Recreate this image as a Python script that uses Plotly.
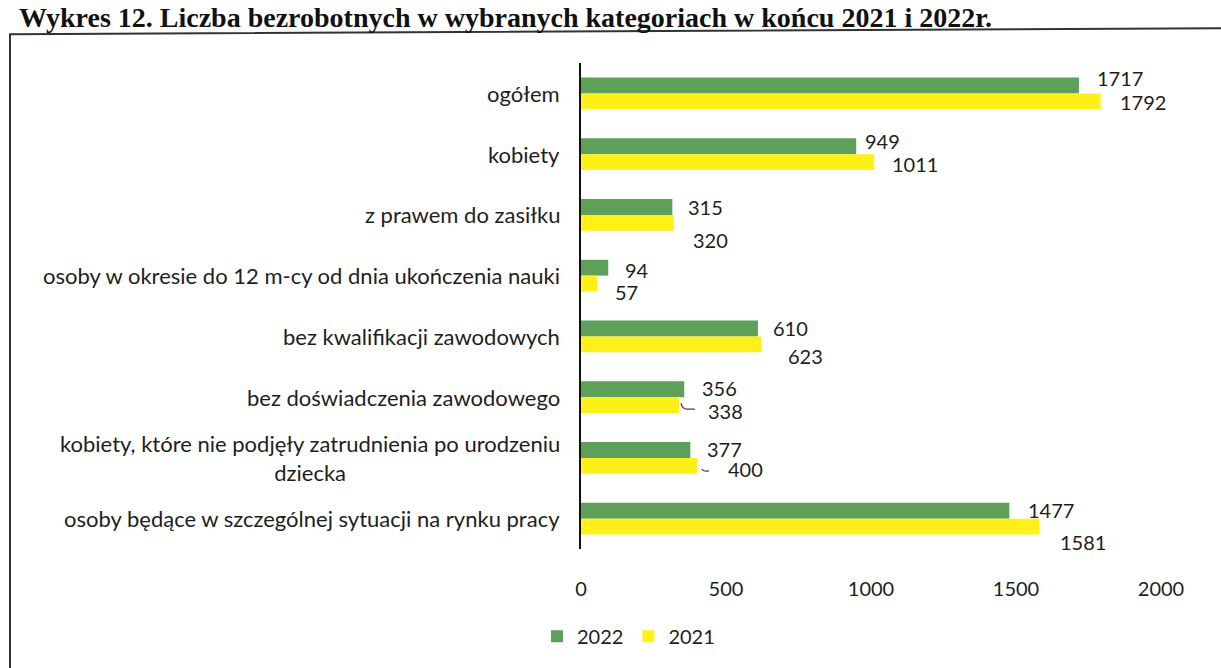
import plotly.graph_objects as go

categories = [
    "ogółem",
    "kobiety",
    "z prawem do zasiłku",
    "osoby w okresie do 12 m-cy od dnia ukończenia nauki",
    "bez kwalifikacji zawodowych",
    "bez doświadczenia zawodowego",
    "kobiety, które nie podjęły zatrudnienia po urodzeniu<br>dziecka",
    "osoby będące w szczególnej sytuacji na rynku pracy",
]
values_2022 = [1717, 949, 315, 94, 610, 356, 377, 1477]
values_2021 = [1792, 1011, 320, 57, 623, 338, 400, 1581]
x_ticks = [0, 500, 1000, 1500, 2000]
title_text = "Wykres 12. Liczba bezrobotnych w wybranych kategoriach w końcu 2021 i 2022r."

# label placement (pixels, style only)
dx_2022 = [18, 9, 16, 17, 15, 18, 17, 19]
dy_2022 = [-15, -13, -8, -6, -8, -9, -9, -9]
dx_2021 = [19, 18, 19, 17, 26, 29, 31, 21]
dy_2021 = [9, 10, 25, 16, 20, 14, 11, 23]

GREEN = "#5E9F5A"
YELLOW = "#FFF01A"
FONT = "Lato"
TXT = "#1e1e1e"

L, R, T, B = 581, 60, 63, 115
W, H = 1221, 668
PW, PH = W - L - R, H - T - B


def px(xp):
    return (xp - L) / PW


def py(yp):
    return (H - B - yp) / PH


fig = go.Figure()
fig.add_trace(go.Bar(y=categories, x=values_2022, orientation="h", name="2022",
                     marker=dict(color=GREEN, line=dict(width=0))))
fig.add_trace(go.Bar(y=categories, x=values_2021, orientation="h", name="2021",
                     marker=dict(color=YELLOW, line=dict(width=0))))

annotations = []
for i, c in enumerate(categories):
    annotations.append(dict(x=0, y=c, xref="x", yref="y", text=c, showarrow=False,
                            xanchor="right", yanchor="middle", xshift=-19, align="center",
                            font=dict(family=FONT, size=22, color=TXT)))
    annotations.append(dict(x=values_2022[i], y=c, xref="x", yref="y", text=str(values_2022[i]),
                            showarrow=False, xanchor="left", yanchor="middle",
                            xshift=dx_2022[i] - 2, yshift=-dy_2022[i],
                            font=dict(family=FONT, size=20, color=TXT)))
    annotations.append(dict(x=values_2021[i], y=c, xref="x", yref="y", text=str(values_2021[i]),
                            showarrow=False, xanchor="left", yanchor="middle",
                            xshift=dx_2021[i] - 2, yshift=-dy_2021[i],
                            font=dict(family=FONT, size=20, color=TXT)))

annotations.append(dict(x=px(18), y=py(0), xref="paper", yref="paper", text="<b>" + title_text + "</b>",
                        showarrow=False, xanchor="left", yanchor="top", borderpad=0,
                        font=dict(family="Liberation Serif", size=28, color="#111")))

shapes = [
    dict(type="path", xref="paper", yref="paper",
         path=f"M {px(10)},{py(690)} L {px(10)},{py(34)} L {px(1230)},{py(28)}",
         line=dict(color="#333", width=2)),
]

# small leader lines for the two displaced labels
leader_idx = [5, 6]
for i in leader_idx:
    shapes.append(dict(type="path", xref="x", yref="y", xsizemode="pixel", ysizemode="pixel",
                       xanchor=values_2021[i], yanchor=categories[i],
                       path="M 2,-6 Q 3,-12 8,-12 L 16,-12" if i == 5 else "M 5,-11 Q 6,-14 12,-13",
                       line=dict(color="#444", width=1.2)))

fig.update_layout(
    width=W, height=H,
    margin=dict(l=L, r=R, t=T, b=B),
    paper_bgcolor="white", plot_bgcolor="white",
    barmode="group", bargap=0.48, bargroupgap=0,
    showlegend=True,
    legend=dict(orientation="h", x=px(537), y=py(641), xanchor="left", yanchor="middle",
                font=dict(family=FONT, size=20, color=TXT), traceorder="normal",
                itemwidth=30, bgcolor="rgba(0,0,0,0)"),
    annotations=annotations,
    shapes=shapes,
    xaxis=dict(range=[0, 2000], tickvals=x_ticks, showgrid=False, zeroline=False,
               showline=False, ticks="outside", ticklen=22, tickcolor="rgba(0,0,0,0)",
               tickfont=dict(family=FONT, size=20, color=TXT)),
    yaxis=dict(categoryorder="array", categoryarray=categories, autorange="reversed",
               showticklabels=False, showgrid=False, zeroline=False,
               showline=True, linecolor="#111", linewidth=2, ticks=""),
)

fig.write_html("out.html", config={"displayModeBar": False},
               post_script="document.body.style.margin='0';document.body.style.padding='0';")
